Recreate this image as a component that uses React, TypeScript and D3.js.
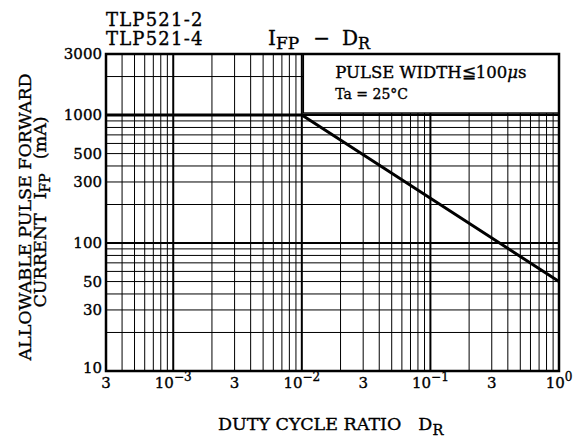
import React from 'react';
import * as d3 from 'd3';

const W = 579;
const H = 437;

// Data
const dutyPoints = [3e-4, 1e-2, 1];
const currentPoints = [1000, 1000, 50];

// Ticks
const yTickValues = [3000, 1000, 500, 300, 100, 50, 30, 10];
const xTickThrees = [3e-4, 3e-3, 3e-2, 3e-1];
const xTickDecades = [1e-3, 1e-2, 1e-1, 1];
const xDecadeExponents = ['−3', '−2', '−1', '0'];

const titleLines = ['TLP521-2', 'TLP521-4'];
const FONT = "'DejaVu Serif', 'Liberation Serif', serif";
const TXT = { stroke: '#000', strokeWidth: 0.35 };

export default function App() {
  const x = d3.scaleLog().domain([3e-4, 1]).range([106, 559]);
  const y = d3.scaleLog().domain([10, 3000]).range([371, 54]);

  const vGrid: { v: number; major: boolean }[] = [];
  for (let k = -4; k <= 0; k++) {
    for (let m = 1; m <= 9; m++) {
      const v = m * Math.pow(10, k);
      if (v > 3e-4 * 1.001 && v < 1 * 0.999) vGrid.push({ v, major: m === 1 });
    }
  }
  const hGrid: { v: number; major: boolean }[] = [];
  for (let k = 1; k <= 3; k++) {
    for (let m = 1; m <= 9; m++) {
      const v = m * Math.pow(10, k);
      if (v > 10 * 1.001 && v < 3000 * 0.999) hGrid.push({ v, major: m === 1 });
    }
  }

  const line = d3
    .line<number>()
    .x((_, i) => x(dutyPoints[i]))
    .y((d) => y(d));

  const [x0, x1] = x.range();
  const [yb, yt] = y.range();

  const legLeft = x(1e-2) + 1.5;
  const legTop = yt;
  const legBottom = y(1000) - 2;

  return (
    <svg
      width={W}
      height={H}
      style={{ position: 'absolute', left: 0, top: 0, background: '#fff' }}
      fontFamily={FONT}
    >
      <rect x={0} y={0} width={W} height={H} fill="#fff" />
      {/* grid */}
      {vGrid.map((g, i) => (
        <line
          key={'v' + i}
          x1={x(g.v)}
          x2={x(g.v)}
          y1={yt}
          y2={yb}
          stroke="#000"
          strokeWidth={g.major ? 2 : 1}
        />
      ))}
      {hGrid.map((g, i) => (
        <line
          key={'h' + i}
          x1={x0}
          x2={x1}
          y1={y(g.v)}
          y2={y(g.v)}
          stroke="#000"
          strokeWidth={g.major ? 2 : 1}
        />
      ))}
      {/* legend box */}
      <rect
        x={legLeft}
        y={legTop}
        width={x1 - legLeft}
        height={legBottom - legTop}
        fill="#fff"
        stroke="#000"
        strokeWidth={1.5}
      />
      <g {...TXT}>
        <text x={legLeft + 32} y={legTop + 24} fontSize={16.5}>
          PULSE WIDTH≦100<tspan fontStyle="italic">μ</tspan>s
        </text>
        <text x={legLeft + 32} y={legTop + 45} fontSize={14}>
          Ta = 25°C
        </text>
      </g>
      {/* frame */}
      <rect x={x0} y={yt} width={x1 - x0} height={yb - yt} fill="none" stroke="#000" strokeWidth={2.5} />
      {/* data line */}
      <path d={line(currentPoints) || ''} fill="none" stroke="#000" strokeWidth={3} />

      <g {...TXT}>
        {/* y tick labels */}
        {yTickValues.map((v) => (
          <text
            key={'yt' + v}
            x={x0 - 4}
            y={v === 10 ? y(v) + 2 : y(v) + 5}
            fontSize={15}
            textAnchor="end"
          >
            {v}
          </text>
        ))}
        {/* x tick labels */}
        {xTickThrees.map((v) => (
          <text key={'x3' + v} x={x(v)} y={388} fontSize={15} textAnchor="middle">
            3
          </text>
        ))}
        {xTickDecades.map((v, i) => (
          <text key={'xd' + v} x={x(v)} y={388} fontSize={15} textAnchor="middle">
            10
            <tspan dy={-7} fontSize={12}>
              {xDecadeExponents[i]}
            </tspan>
          </text>
        ))}

        {/* titles */}
        {titleLines.map((t, i) => (
          <text key={t} x={x0} y={26 + i * 19} fontSize={18} letterSpacing={1.2}>
            {t}
          </text>
        ))}
        <text x={268} y={45} fontSize={20}>
          I
          <tspan dy={4} fontSize={17}>FP</tspan>
          <tspan dy={-4} dx={14}>−</tspan>
          <tspan dx={12}>D</tspan>
          <tspan dy={4} fontSize={16}>R</tspan>
        </text>

        {/* x axis title */}
        <text x={218} y={430} fontSize={17.5}>
          DUTY CYCLE RATIO
          <tspan dx={17}>D</tspan>
          <tspan dy={5} fontSize={14.5}>R</tspan>
        </text>

        {/* y axis title */}
        <text transform="translate(31,217) rotate(-90)" textAnchor="middle" fontSize={17.5}>
          ALLOWABLE PULSE FORWARD
        </text>
        <text transform="translate(46,212) rotate(-90)" textAnchor="middle" fontSize={17.5}>
          CURRENT
          <tspan dx={14}>I</tspan>
          <tspan dy={4} fontSize={14}>FP</tspan>
          <tspan dy={-4} dx={14}>(mA)</tspan>
        </text>
      </g>
    </svg>
  );
}
